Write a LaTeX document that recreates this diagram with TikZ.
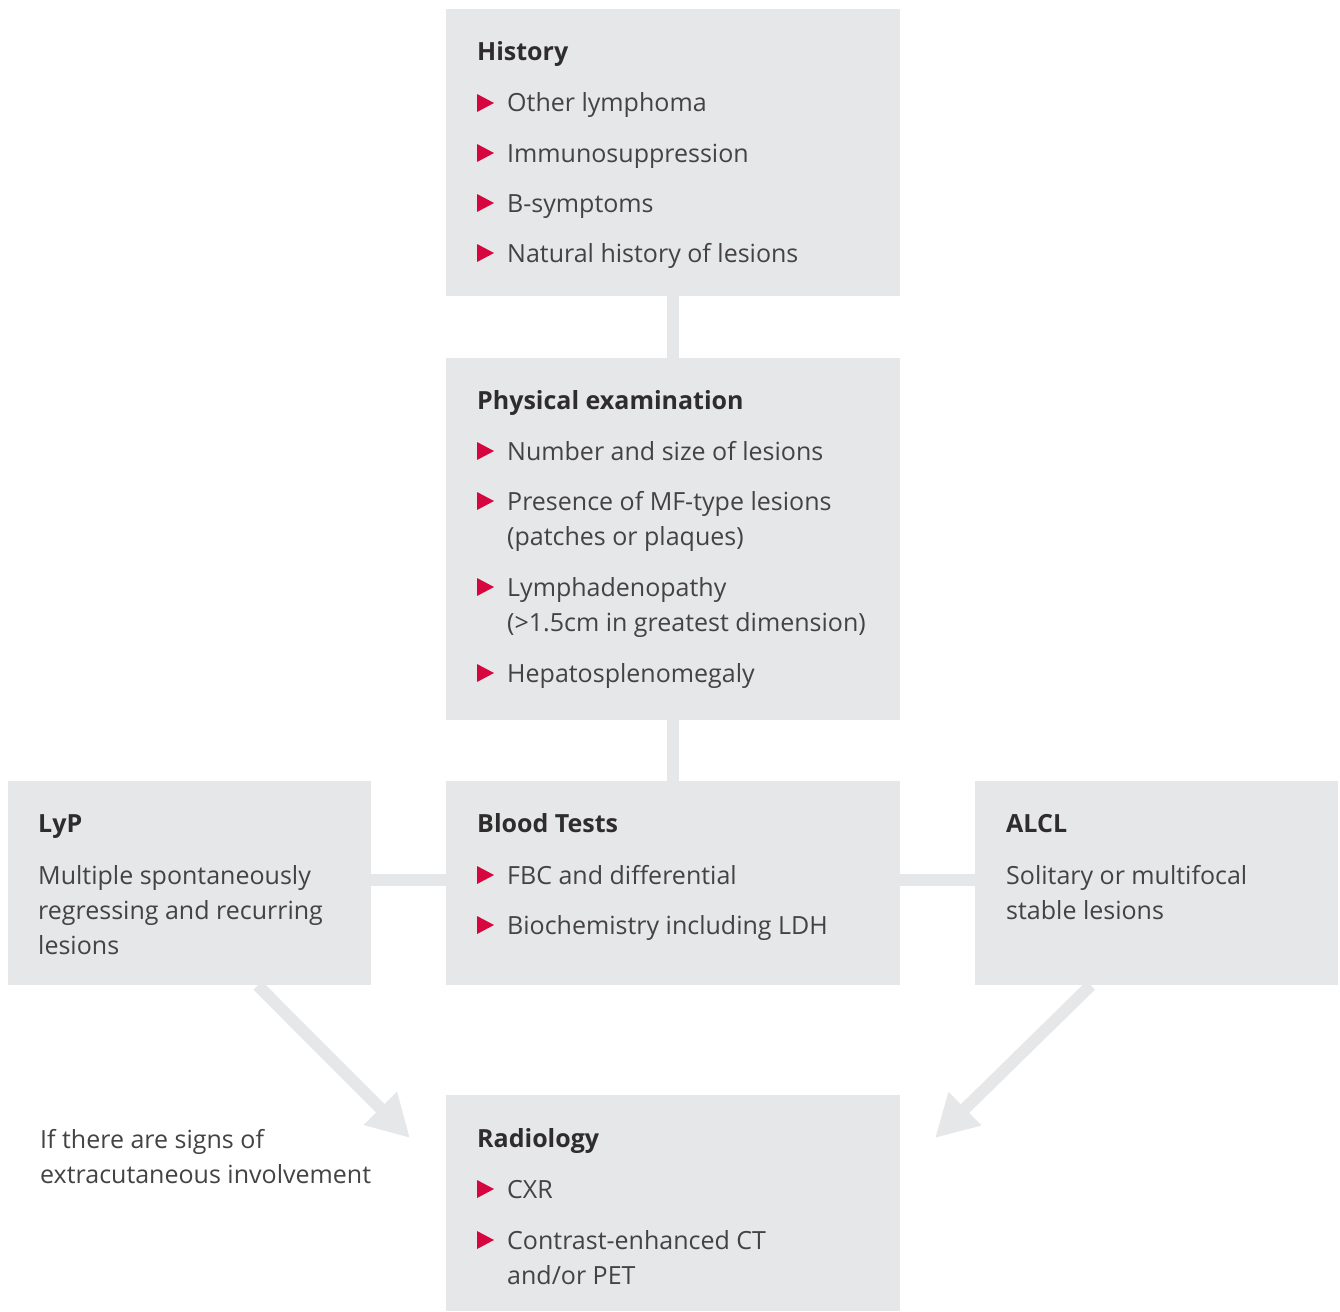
\documentclass[tikz,border=0pt]{standalone}
\usepackage{fontspec}
\setmainfont{Open Sans}
\usetikzlibrary{positioning,arrows.meta,calc}

\definecolor{boxgray}{HTML}{E6E7E8}
\definecolor{bulletred}{HTML}{D6073F}
\definecolor{inkgray}{HTML}{2E2C2D}
\definecolor{bodygray}{HTML}{444243}

\tikzset{
  panel/.style={fill=boxgray,inner sep=0pt,anchor=north west},
  heading/.style={anchor=base west,inner sep=0pt,text=inkgray,font=\fontsize{25}{35}\selectfont\bfseries},
  entry/.style={anchor=base west,inner sep=0pt,text=bodygray,align=left,font=\fontsize{25}{35}\selectfont},
  link/.style={boxgray,line width=12pt},
  flowarrow/.style={boxgray,line width=12pt,-{Triangle[length=42pt,width=44pt]}},
}
% red bullet in front of an entry, #1 = baseline y of its first line
\newcommand\redtri[1]{\fill[bulletred] (477,#1-18) -- (494,#1-9) -- (477,#1) -- cycle;}

\begin{document}
\begin{tikzpicture}[x=1pt,y=-1pt]
\useasboundingbox (0,0) rectangle (1340,1311);

% boxes
\node[panel,minimum width=454pt,minimum height=287pt] (hist) at (446,9) {};
\node[panel,minimum width=454pt,minimum height=362pt] (phys) at (446,358) {};
\node[panel,minimum width=454pt,minimum height=204pt] (blood) at (446,781) {};
\node[panel,minimum width=363pt,minimum height=204pt] (lyp) at (8,781) {};
\node[panel,minimum width=363pt,minimum height=204pt] (alcl) at (975,781) {};
\node[panel,minimum width=454pt,minimum height=216pt] (radio) at (446,1095) {};

% connectors
\draw[link] (hist.south) -- (phys.north);
\draw[link] (phys.south) -- (blood.north);
\draw[link] ([yshift=3pt]lyp.east) -- ([yshift=3pt]blood.west);
\draw[link] ([yshift=3pt]blood.east) -- ([yshift=3pt]alcl.west);
\coordinate (tipL) at (410,1138);
\coordinate (tipR) at (935,1138);
\draw[flowarrow] ([xshift=68pt]lyp.south) -- (tipL);
\draw[flowarrow] ([xshift=-66pt]alcl.south) -- (tipR);

% History
\node[heading] (histT) at (477,61) {History};
\redtri{112}\node[entry] (hist1) at (507,112) {Other lymphoma};
\redtri{162}\node[entry] (hist2) at (507,162) {Immunosuppression};
\redtri{212}\node[entry] (hist3) at (507,212) {B-symptoms};
\redtri{262}\node[entry] (hist4) at (507,262) {Natural history of lesions};

% Physical examination (multi-line entries sit on their last baseline)
\node[heading] (physT) at (477,409) {Physical examination};
\redtri{460}\node[entry] (phys1) at (507,460) {Number and size of lesions};
\redtri{510}\node[entry] (phys2) at (507,545) {Presence of MF-type lesions\\(patches or plaques)};
\redtri{596}\node[entry] (phys3) at (507,631) {Lymphadenopathy\\(>1.5cm in greatest dimension)};
\redtri{682}\node[entry] (phys4) at (507,682) {Hepatosplenomegaly};

% Blood tests
\node[heading] (bloodT) at (477,832) {Blood Tests};
\redtri{884}\node[entry] (blood1) at (507,884) {FBC and differential};
\redtri{934}\node[entry] (blood2) at (507,934) {Biochemistry including LDH};

% LyP
\node[heading] (lypT) at (38,832) {LyP};
\node[entry] (lypD) at (38,954) {Multiple spontaneously\\regressing and recurring\\lesions};

% ALCL
\node[heading] (alclT) at (1006,832) {ALCL};
\node[entry] (alclD) at (1006,919) {Solitary or multifocal\\stable lesions};

% Radiology
\node[heading] (radioT) at (477,1147) {Radiology};
\redtri{1198}\node[entry] (radio1) at (507,1198) {CXR};
\redtri{1249}\node[entry] (radio2) at (507,1284) {Contrast-enhanced CT\\and/or PET};

% side note
\node[entry] (note) at (40,1183) {If there are signs of\\extracutaneous involvement};
\end{tikzpicture}
\end{document}
